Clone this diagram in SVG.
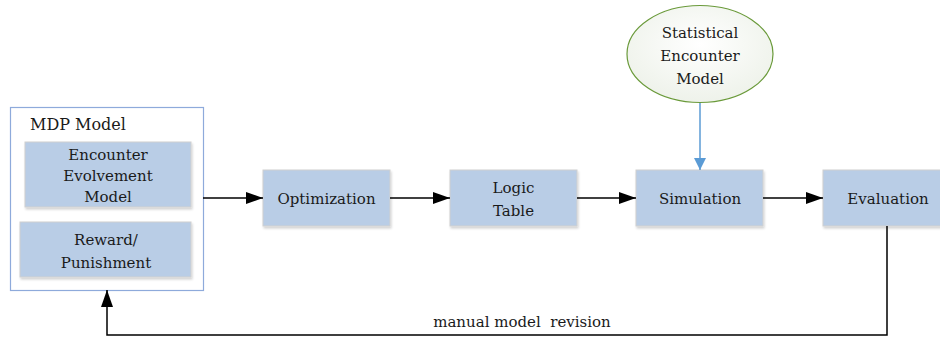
<svg xmlns="http://www.w3.org/2000/svg" width="940" height="337" viewBox="0 0 940 337">
<defs>
<marker id="ah" markerWidth="17" markerHeight="12" refX="17" refY="6" orient="auto" markerUnits="userSpaceOnUse"><path d="M0,0 L17,6 L0,12 z" fill="#000"/></marker>
<marker id="ahb" markerWidth="12" markerHeight="12" refX="12" refY="6" orient="auto" markerUnits="userSpaceOnUse"><path d="M0,0 L12,6 L0,12 z" fill="#5b9bd5"/></marker>
<filter id="sh" x="-5%" y="-5%" width="115%" height="125%"><feDropShadow dx="1" dy="2" stdDeviation="1.2" flood-color="#000" flood-opacity="0.18"/></filter>
<radialGradient id="eg" cx="0.5" cy="0.4" r="0.6"><stop offset="0" stop-color="#ffffff"/><stop offset="1" stop-color="#eef2ea"/></radialGradient>
</defs>
<style>
text{font-family:"DejaVu Serif","Liberation Serif",serif;font-size:15px;fill:#1a1a1a;text-anchor:middle}
.box{fill:#b9cde6;stroke:#d0d0d0;stroke-width:1;filter:url(#sh)}
.line{fill:none;stroke:#000;stroke-width:1.5}
</style>
<g id="mdp">
<rect x="10.5" y="107.5" width="193" height="183" fill="#fff" stroke="#8eaadb" stroke-width="1.2"/>
<text x="30" y="130" style="text-anchor:start;font-size:16px">MDP Model</text>
</g>
<g id="encounter-evolvement">
<rect class="box" x="25" y="142" width="166" height="65"/>
<text x="108" y="160">Encounter</text>
<text x="108" y="181">Evolvement</text>
<text x="108" y="202">Model</text>
</g>
<g id="reward">
<rect class="box" x="20" y="222" width="171" height="55"/>
<text x="106" y="245">Reward/</text>
<text x="106" y="268">Punishment</text>
</g>
<g id="optimization">
<rect class="box" x="263" y="170" width="127" height="56"/>
<text x="326.5" y="204">Optimization</text>
</g>
<g id="logic-table">
<rect class="box" x="450" y="170" width="127" height="56"/>
<text x="513.5" y="193">Logic</text>
<text x="513.5" y="216">Table</text>
</g>
<g id="simulation">
<rect class="box" x="636" y="170" width="127" height="56"/>
<text x="700" y="204">Simulation</text>
</g>
<g id="evaluation">
<rect class="box" x="823" y="170" width="127" height="56"/>
<text x="888" y="204">Evaluation</text>
</g>
<g id="statistical-encounter">
<ellipse cx="700" cy="54" rx="73" ry="48.5" fill="url(#eg)" stroke="#6a9a3a" stroke-width="1.2"/>
<text x="700" y="38">Statistical</text>
<text x="700" y="61">Encounter</text>
<text x="700" y="84">Model</text>
</g>
<g id="connectors">
<line class="line" x1="203" y1="198" x2="263" y2="198" marker-end="url(#ah)"/>
<line class="line" x1="390" y1="198" x2="450" y2="198" marker-end="url(#ah)"/>
<line class="line" x1="577" y1="198" x2="636" y2="198" marker-end="url(#ah)"/>
<line class="line" x1="763" y1="198" x2="823" y2="198" marker-end="url(#ah)"/>
<line x1="700" y1="103" x2="700" y2="170" stroke="#5b9bd5" stroke-width="1.5" marker-end="url(#ahb)"/>
<polyline class="line" points="887,226 887,335 107,335 107,290" marker-end="url(#ah)"/>
<text x="522" y="327" style="font-size:15px">manual model&#160; revision</text>
</g>
</svg>
